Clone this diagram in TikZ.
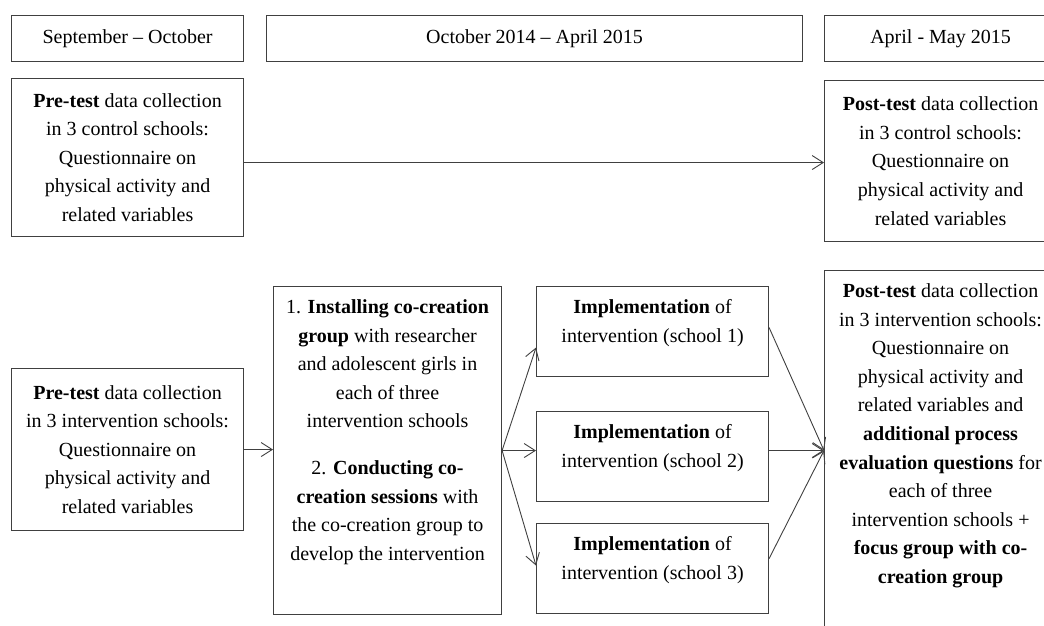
\documentclass[tikz,border=0pt]{standalone}
\usepackage{fontspec}
\setmainfont{Liberation Serif}
\usetikzlibrary{arrows.meta, calc}
\definecolor{framegray}{gray}{0.25}

\begin{document}
\begin{tikzpicture}[x=1pt, y=-1pt,
    box/.style={draw=framegray, line width=1.1pt, rectangle, anchor=north west, inner sep=0pt, font=\fontsize{20}{28.6}\selectfont},
    midbox/.style 2 args={box, minimum width=#1, minimum height=#2, align=center},
    topbox/.style 2 args={box, execute at begin node={\hbox to #1pt\bgroup\hss\begin{minipage}[c][#2pt][t]{300pt}\centering\vspace*{13pt}},
        execute at end node={\end{minipage}\hss\egroup}},
    flow/.style={draw=framegray, line width=0.9pt, -{Straight Barb[length=11pt,width=14pt]}}]

    \useasboundingbox (0,0) rectangle (1044,626);
    \clip (0,0) rectangle (1044,626);

    \node[midbox={232}{46}] (hdrfirst) at (11,15) {September – October};
    \node[midbox={536}{46}] (hdrmid) at (266,15) {October 2014 – April 2015};
    \node[midbox={232}{46}] (hdrlast) at (824,15) {April - May 2015};

    \node[midbox={232}{158}] (prectrl) at (11,78) {\textbf{Pre-test} data collection\\in 3 control schools:\\Questionnaire on\\physical activity and\\related variables};
    \node[midbox={232}{161}] (postctrl) at (824,80) {\textbf{Post-test} data collection\\in 3 control schools:\\Questionnaire on\\physical activity and\\related variables};

    \node[midbox={232}{162}] (preint) at (11,368) {\textbf{Pre-test} data collection\\in 3 intervention schools:\\Questionnaire on\\physical activity and\\related variables};
    \node[topbox={228}{328}] (cocreate) at (273,286) {1. \textbf{Installing co-creation}\\\textbf{group} with researcher\\and adolescent girls in\\each of three\\intervention schools\\[18pt]2. \textbf{Conducting co-}\\\textbf{creation sessions} with\\the co-creation group to\\develop the intervention};

    \node[topbox={232}{90}] (implA) at (536,286) {\textbf{Implementation} of\\intervention (school 1)};
    \node[topbox={232}{90}] (implB) at (536,411) {\textbf{Implementation} of\\intervention (school 2)};
    \node[topbox={232}{90}] (implC) at (536,523) {\textbf{Implementation} of\\intervention (school 3)};

    \node[topbox={232}{380}] (postint) at (824,270) {\textbf{Post-test} data collection\\in 3 intervention schools:\\Questionnaire on\\physical activity and\\related variables and\\\textbf{additional process}\\\textbf{evaluation questions} for\\each of three\\intervention schools +\\\textbf{focus group with co-}\\\textbf{creation group}};

    \coordinate (merge) at (cocreate.east -| postint.west);

    \draw[flow] ($(prectrl.east)+(0,5)$) -- ($(prectrl.east -| postctrl.west)+(0,5)$);
    \draw[flow] (preint.east) -- (preint.east -| cocreate.west);
    \draw[flow] (cocreate.east) -- ($(implA.west)+(0,16)$);
    \draw[flow] (cocreate.east) -- ($(implB.west)+(0,-6)$);
    \draw[flow] (cocreate.east) -- ($(implC.west)+(0,-3)$);
    \draw[flow] ($(implA.east)+(0,-4)$) -- (merge);
    \draw[flow] ($(implB.east)+(0,-6)$) -- (merge);
    \draw[flow] ($(implC.east)+(0,-10)$) -- (merge);
\end{tikzpicture}
\end{document}
